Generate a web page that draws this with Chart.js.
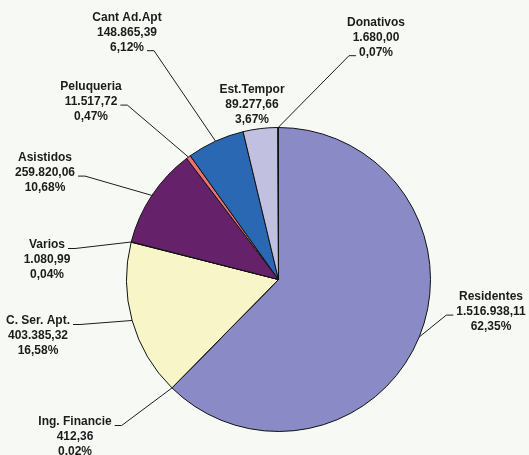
<!DOCTYPE html>
<html>
<head>
<meta charset="utf-8">
<script src="https://cdn.jsdelivr.net/npm/chart.js@4.4.0/dist/chart.umd.min.js"></script>
<style>
  html, body { margin: 0; padding: 0; background: #f7faf4; }
  canvas { display: block; }
</style>
</head>
<body>
<canvas id="tarta" width="529" height="455"></canvas>
<script>
/* ── Datos ── */
const categorias = ["Residentes", "Ing. Financie", "C. Ser. Apt.", "Varios", "Asistidos",
                    "Peluqueria", "Cant Ad.Apt", "Est.Tempor", "Donativos"];
const importes   = [1516938.11, 412.36, 403385.32, 1080.99, 259820.06,
                    11517.72, 148865.39, 89277.66, 1680.00];
const colores    = ["#8a8ac6", "#d6d6ee", "#f8f6c8", "#bfe0ee", "#65226a",
                    "#ec7272", "#2a68b4", "#c2c0e0", "#4c4c9c"];

/* ── Colocación de etiquetas (centro x, y de la 1ª línea, línea de la guía, lado) ── */
const etiquetas = [
  { x: 491, y: 297, linea: 1, lado: "izq" },
  { x: 75,  y: 422, linea: 0, lado: "der" },
  { x: 38,  y: 321, linea: 0, lado: "der" },
  { x: 47,  y: 245, linea: 0, lado: "der" },
  { x: 45,  y: 158, linea: 1, lado: "der" },
  { x: 91,  y: 87,  linea: 1, lado: "der" },
  { x: 127, y: 18,  linea: 2, lado: "der" },
  { x: 252, y: 90,  linea: null },
  { x: 376, y: 23,  linea: 2, lado: "izq" },
];

const total = importes.reduce((a, b) => a + b, 0);
const fmt = (n, d) => n.toLocaleString("de-DE", { minimumFractionDigits: d, maximumFractionDigits: d });

/* ── Plugin: etiquetas con guías ── */
const guias = {
  id: "guias",
  afterDatasetsDraw(chart) {
    const c = chart.ctx;
    const arcos = chart.getDatasetMeta(0).data;
    c.save();
    c.font = "bold 12px 'Liberation Sans', Arial, sans-serif";
    c.textAlign = "center";
    c.textBaseline = "middle";
    c.fillStyle = "#1c1c1c";
    c.strokeStyle = "#1c1c1c";
    c.lineWidth = 1;

    arcos.forEach((arco, i) => {
      const e = etiquetas[i];
      const lineas = [categorias[i], fmt(importes[i], 2), fmt(importes[i] / total * 100, 2) + "%"];
      const paso = 14.6;
      lineas.forEach((t, k) => c.fillText(t, e.x, e.y + k * paso));

      if (e.linea === null) return;
      const medio = (arco.startAngle + arco.endAngle) / 2;
      const ax = arco.x + Math.cos(medio) * arco.outerRadius;
      const ay = arco.y + Math.sin(medio) * arco.outerRadius;

      const w  = c.measureText(lineas[e.linea]).width;
      const ly = e.y + e.linea * paso + 3.5;
      const s  = e.lado === "der" ? 1 : -1;
      const x0 = e.x + s * (w / 2 + 3);
      const x1 = x0 + s * 7;

      c.beginPath();
      c.moveTo(x0, ly);
      c.lineTo(x1, ly);
      c.lineTo(ax, ay);
      c.stroke();
    });
    c.restore();
  }
};

new Chart(document.getElementById("tarta"), {
  type: "pie",
  data: {
    labels: categorias,
    datasets: [{
      data: importes,
      backgroundColor: colores,
      borderColor: "#111",
      borderWidth: 1,
    }],
  },
  options: {
    responsive: false,
    animation: false,
    layout: { padding: { left: 126, right: 98, top: 127, bottom: 23 } },
    plugins: { legend: { display: false }, tooltip: { enabled: false } },
  },
  plugins: [guias],
});
</script>
</body>
</html>
